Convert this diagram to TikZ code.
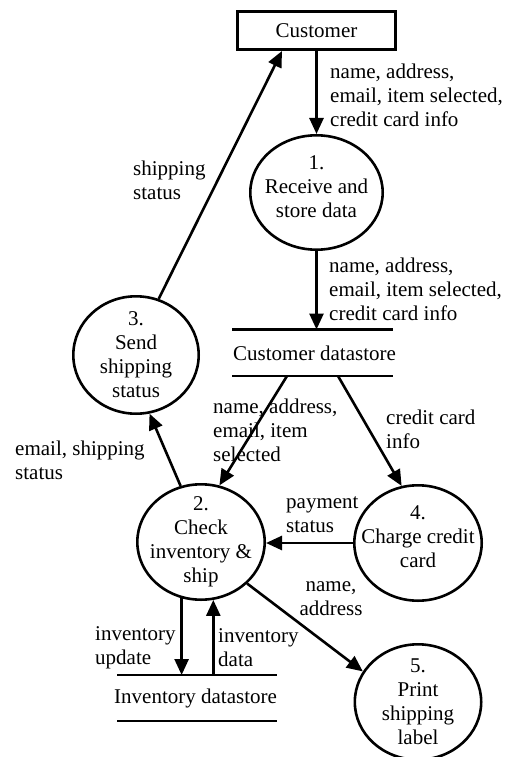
\documentclass[tikz,border=0pt]{standalone}
\usepackage{fontspec}
\setmainfont{Liberation Serif}
\usetikzlibrary{arrows.meta,shapes.geometric}
\newcommand\mystrut{\rule{0pt}{16pt}}
\newcommand\mydepth{\rule[-12pt]{0pt}{12pt}}
\begin{document}
\begin{tikzpicture}[x=1pt,y=-1pt,
  every node/.style={font=\fontsize{21}{24}\selectfont},
  proc/.style={draw,ellipse,line width=2.6pt,inner xsep=-12pt,inner ysep=-6pt,
    minimum width=127.4pt,minimum height=115.4pt,align=center},
  entity/.style={draw,rectangle,line width=2.6pt,inner sep=0pt,
    minimum width=158.4pt,minimum height=38.4pt},
  lbl/.style={inner sep=0pt,anchor=north west,align=left},
  storetext/.style={inner sep=0pt,anchor=base west},
  flow/.style={line width=2.6pt,-{Triangle[length=16pt,width=14pt]}},
  storeline/.style={line width=2.6pt}]
\useasboundingbox (0,0) rectangle (505,757);

% entity
\node[entity] (cust) at (316.5,30.5) {Customer};

% processes
\node[proc,minimum width=132.4pt,minimum height=114.4pt] (c1) at (316.5,192.5)
  {1.\\Receive and\\store data\mydepth};
\node[proc] (c2) at (201,542) {2.\\Check\\inventory \&\\ship};
\node[proc,minimum width=125.4pt,minimum height=117.4pt] (c3) at (136,355)
  {3.\\Send\\shipping\\status};
\node[proc] (c4) at (418,543) {4.\\Charge credit\\card\mydepth};
\node[proc,minimum width=126.4pt] (c5) at (418,702) {5.\\Print\\shipping\\label};

% customer datastore
\coordinate (cdsTL) at (232,329.5);
\coordinate (cdsTR) at (393,329.5);
\coordinate (cdsBL) at (232,376);
\coordinate (cdsBR) at (393,376);
\coordinate (cdsA) at (287,376);
\coordinate (cdsB) at (338,376);
\node[storetext] (cds) at (233,360) {Customer datastore};
\draw[storeline] (cdsTL) -- (cdsTR);
\draw[storeline] (cdsBL) -- (cdsBR);

% inventory datastore
\coordinate (invTL) at (117,675);
\coordinate (invTR) at (277,675);
\coordinate (invBL) at (117,721);
\coordinate (invBR) at (277,721);
\node[storetext] (inv) at (114,703) {Inventory datastore};
\draw[storeline] (invTL) -- (invTR);
\draw[storeline] (invBL) -- (invBR);

% flows
\draw[flow] (cust.south) -- (c1.north);
\draw[flow] (c1.south) -- (c1.south |- cdsTL);
\draw[flow] (cdsA) -- (c2.72);
\draw[flow] (cdsB) -- (c4.106);
\draw[flow] (c4.west) -- (c4.west -| c2.east);
\draw[flow] (c2.110) -- (c3.283);
\draw[flow] (c3.68) -- ([xshift=-34.5pt]cust.south);
\draw[flow] (c2.251) -- (c2.251 |- invTL);
\draw[flow] (c2.282 |- invTL) -- (c2.282);
\draw[flow] (c2.318) -- (c5.151);

% labels
\node[lbl] (l1) at (330,62) {\mystrut name, address,\\email, item selected,\\credit card info};
\node[lbl] (l2) at (329,256) {\mystrut name, address,\\email, item selected,\\credit card info};
\node[lbl] (l3) at (133,159) {\mystrut shipping\\status};
\node[lbl] (l4) at (15,439) {\mystrut email, shipping\\status};
\node[lbl] (l5) at (213,397) {\mystrut name, address,\\email, item\\selected};
\node[lbl] (l6) at (386,408) {\mystrut credit card\\info};
\node[lbl] (l7) at (286,492) {\mystrut payment\\status};
\node[lbl,anchor=north,align=center] (l8) at (331,575) {\mystrut name,\\address};
\node[lbl] (l9) at (95,624) {\mystrut inventory\\update};
\node[lbl] (l10) at (218,626) {\mystrut inventory\\data};
\end{tikzpicture}
\end{document}
